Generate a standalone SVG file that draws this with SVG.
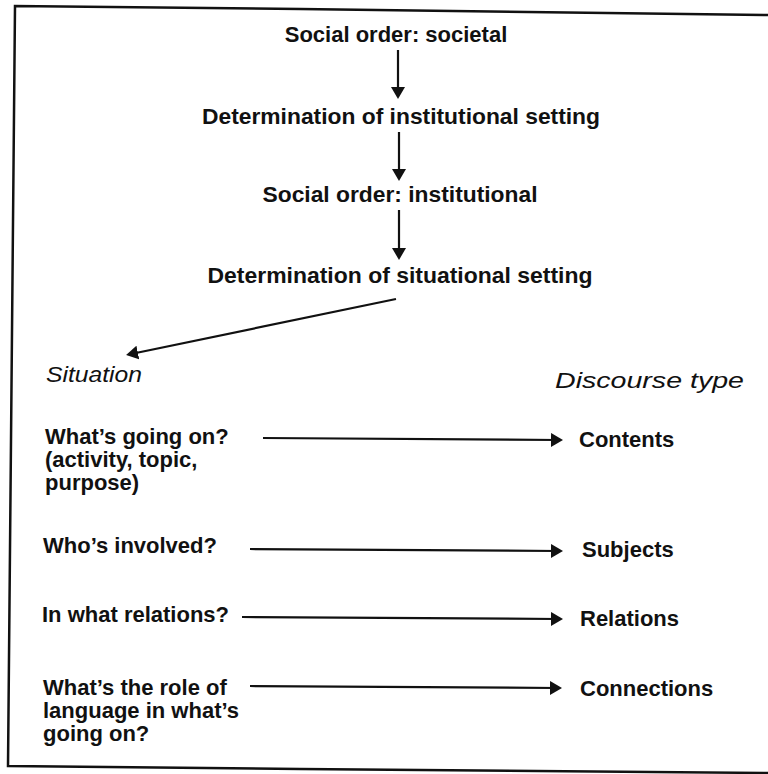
<svg xmlns="http://www.w3.org/2000/svg" width="768" height="774" viewBox="0 0 768 774">
<style>
  .t { font-family: "Liberation Sans", Arial, sans-serif; font-size: 22px; font-weight: bold; fill: #111; }
  .c { text-anchor: middle; }
  .i { font-style: italic; font-weight: normal; }
  .ln { stroke: #111; stroke-width: 2.2; fill: none; }
  .frame { stroke: #111; stroke-width: 2.5; fill: none; }
</style>
<defs>
  <marker id="ah" viewBox="0 0 12 14" refX="7" refY="7" markerWidth="12" markerHeight="14" markerUnits="userSpaceOnUse" orient="auto">
    <path d="M0,0 L12,7 L0,14 Z" fill="#111"/>
  </marker>
</defs>
<rect width="768" height="774" fill="#fff"/>
<g id="frame">
  <polyline class="frame" points="768,15 300,9 15,6 8,766 300,769 768,773"/>
</g>
<g id="n-societal"><text class="t c" x="396" y="42">Social order: societal</text></g>
<g id="n-det-inst"><text class="t c" x="401" y="124" textLength="398" lengthAdjust="spacingAndGlyphs">Determination of institutional setting</text></g>
<g id="n-inst"><text class="t c" x="400" y="202" textLength="275" lengthAdjust="spacingAndGlyphs">Social order: institutional</text></g>
<g id="n-det-sit"><text class="t c" x="400" y="283" textLength="385" lengthAdjust="spacingAndGlyphs">Determination of situational setting</text></g>
<g id="n-situation"><text class="t i" x="46" y="382" textLength="96" lengthAdjust="spacingAndGlyphs">Situation</text></g>
<g id="n-discourse"><text class="t i" x="555" y="388" textLength="189" lengthAdjust="spacingAndGlyphs">Discourse type</text></g>
<g id="n-going-on">
  <text class="t" x="45" y="444">What’s going on?</text>
  <text class="t" x="45" y="467">(activity, topic,</text>
  <text class="t" x="45" y="490">purpose)</text>
</g>
<g id="n-contents"><text class="t" x="579" y="447">Contents</text></g>
<g id="n-involved"><text class="t" x="43" y="553">Who’s involved?</text></g>
<g id="n-subjects"><text class="t" x="582" y="557">Subjects</text></g>
<g id="n-relations-q"><text class="t" x="42" y="622">In what relations?</text></g>
<g id="n-relations"><text class="t" x="580" y="626">Relations</text></g>
<g id="n-role">
  <text class="t" x="43" y="695">What’s the role of</text>
  <text class="t" x="43" y="718">language in what’s</text>
  <text class="t" x="43" y="741">going on?</text>
</g>
<g id="n-connections"><text class="t" x="580" y="696">Connections</text></g>
<g id="connectors">
  <line class="ln" x1="398" y1="50" x2="398" y2="94" marker-end="url(#ah)"/>
  <line class="ln" x1="399" y1="132" x2="399" y2="176" marker-end="url(#ah)"/>
  <line class="ln" x1="399" y1="210" x2="399" y2="255" marker-end="url(#ah)"/>
  <line class="ln" x1="396" y1="299" x2="131" y2="354" marker-end="url(#ah)"/>
  <line class="ln" x1="263" y1="438" x2="558" y2="440" marker-end="url(#ah)"/>
  <line class="ln" x1="250" y1="549" x2="558" y2="551" marker-end="url(#ah)"/>
  <line class="ln" x1="242" y1="617" x2="558" y2="619" marker-end="url(#ah)"/>
  <line class="ln" x1="250" y1="686" x2="557" y2="688" marker-end="url(#ah)"/>
</g>
</svg>
